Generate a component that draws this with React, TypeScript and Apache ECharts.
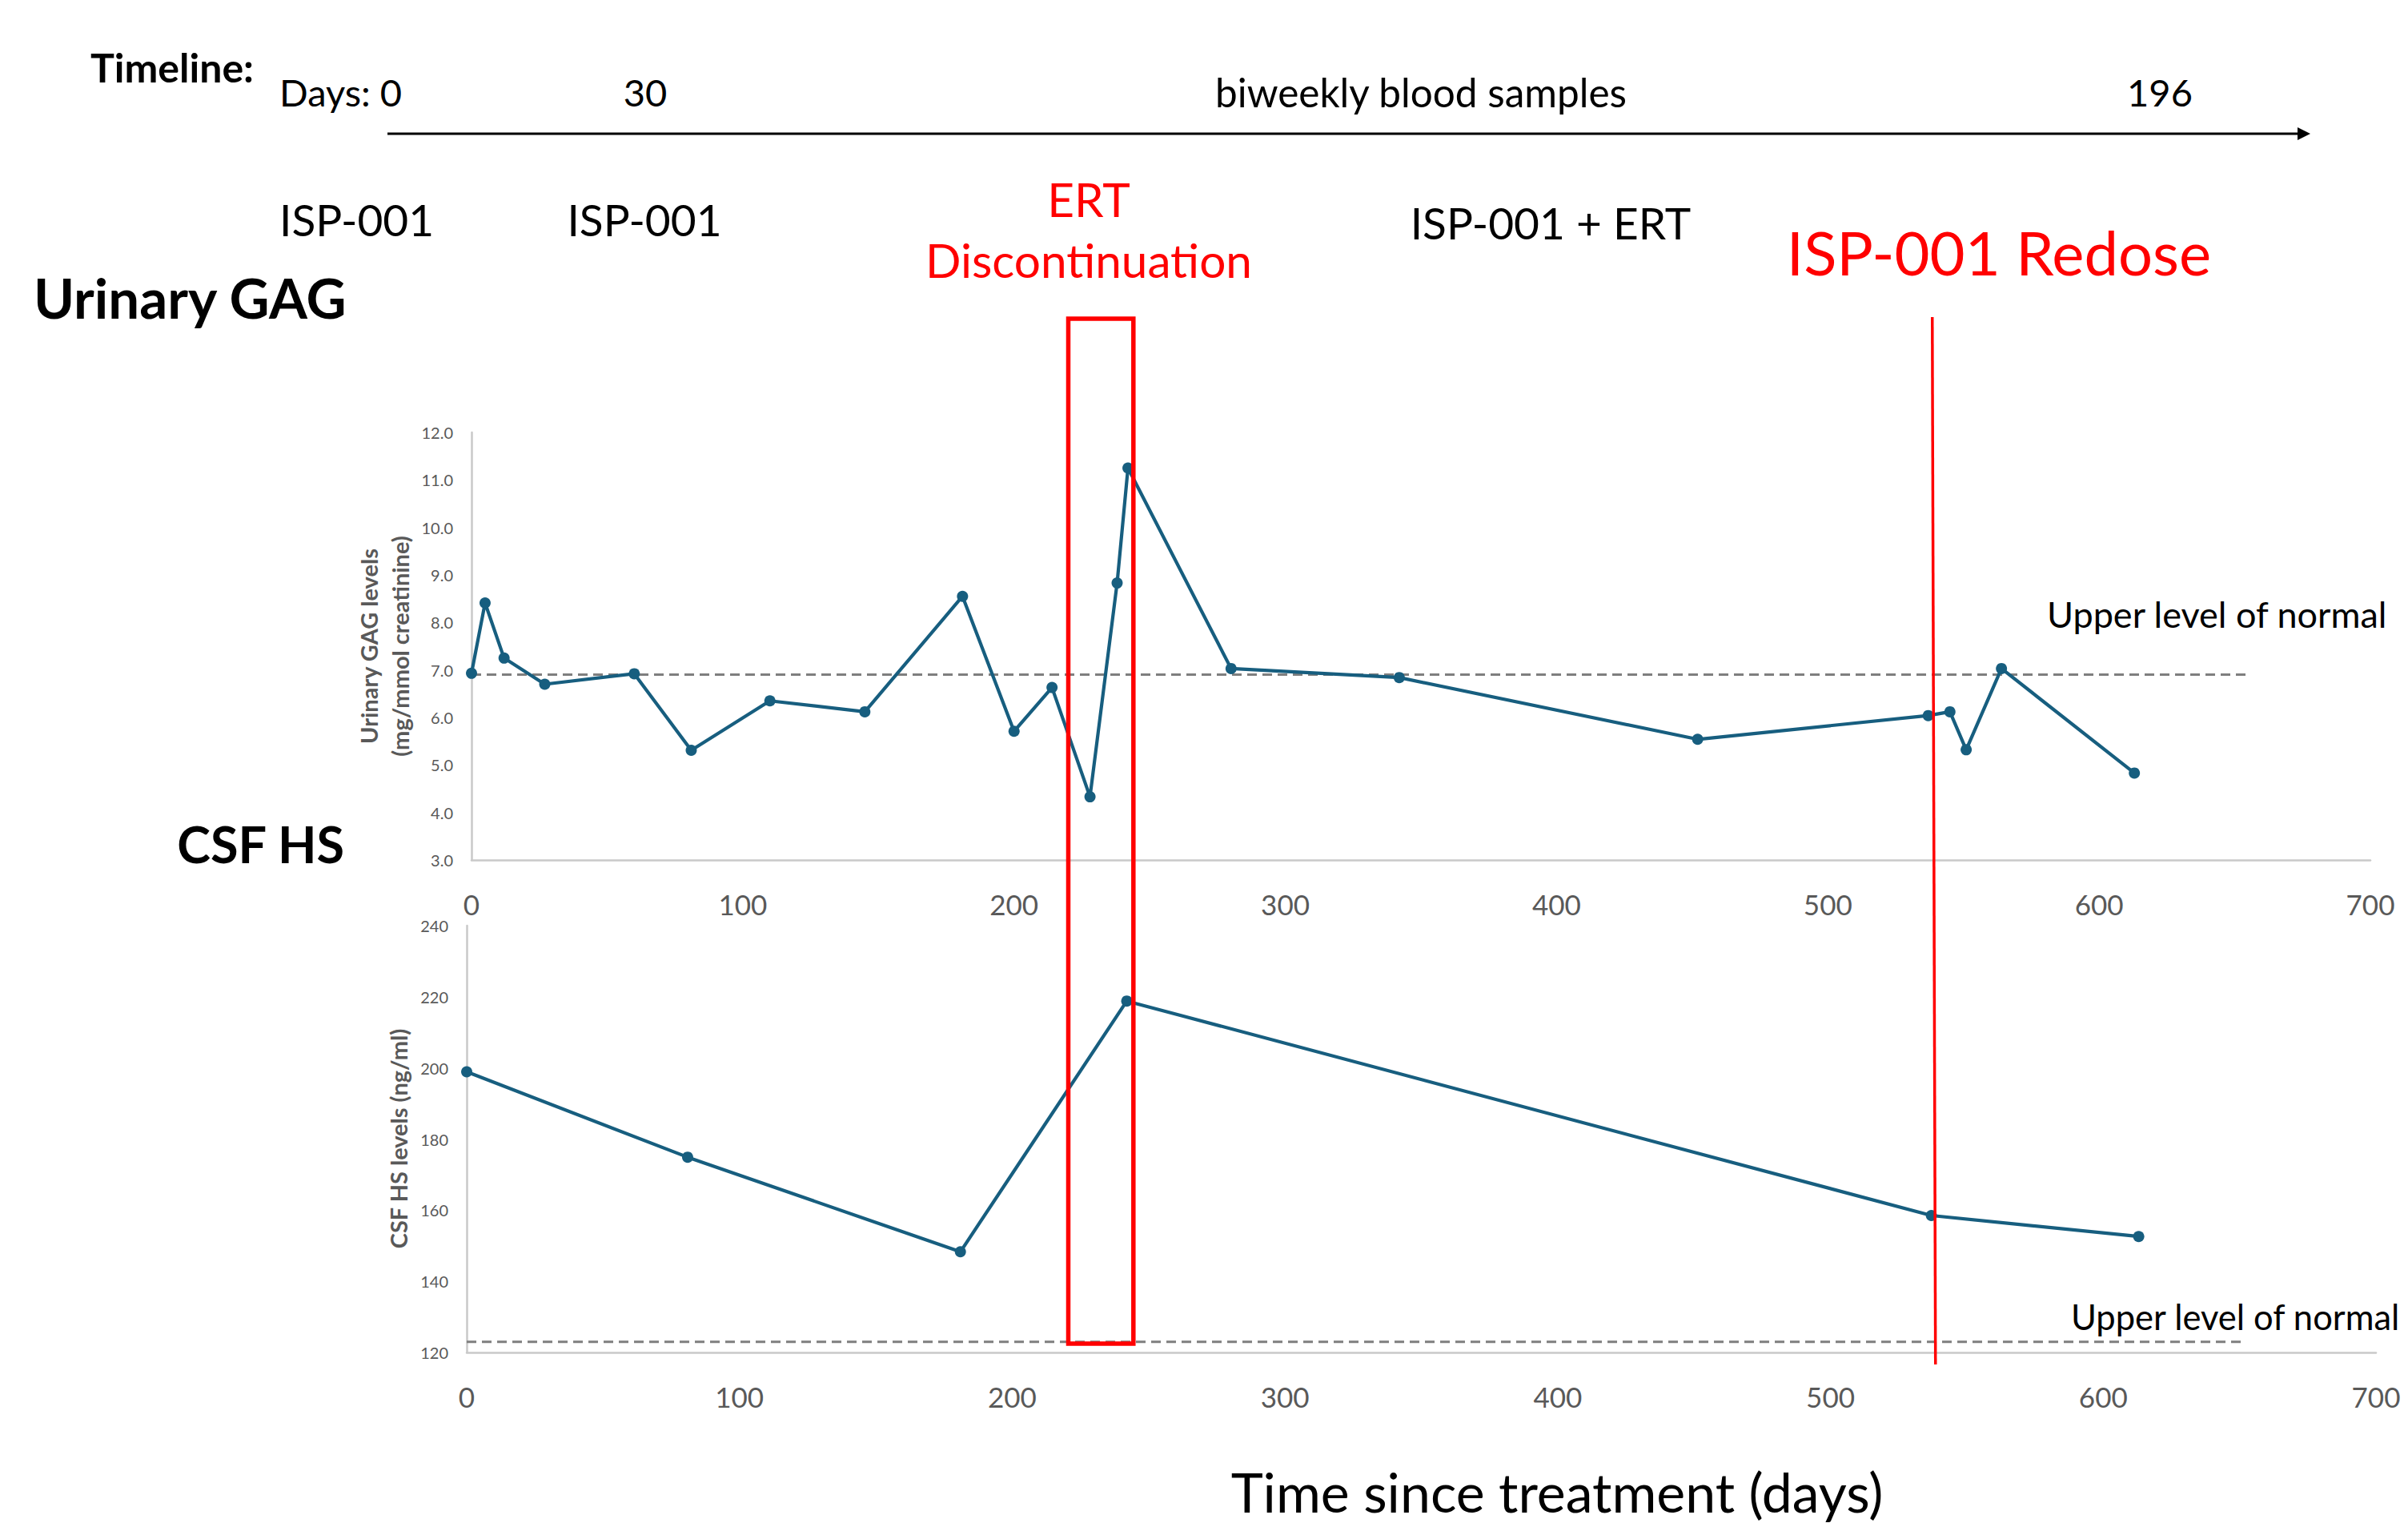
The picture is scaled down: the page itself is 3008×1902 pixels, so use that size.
import React, { useEffect, useRef } from "react";
import * as echarts from "echarts";

// ---- Data ----
const gagDays = [0, 5, 12, 27, 60, 81, 110, 145, 181, 200, 214, 228, 238, 242, 280, 342, 452, 537, 545, 551, 564, 613];
const gagValues = [6.93, 8.41, 7.25, 6.7, 6.92, 5.31, 6.35, 6.12, 8.55, 5.71, 6.63, 4.33, 8.83, 11.25, 7.03, 6.84, 5.54, 6.04, 6.12, 5.32, 7.03, 4.83];

const csfDays = [0, 81, 181, 242, 537, 613];
const csfValues = [198.9, 174.9, 148.3, 218.8, 158.5, 152.6];

const gagUpperNormal = 6.9;
const csfUpperNormal = 123;
const gagNormalSpan = [0, 655];
const csfNormalSpan = [0, 652];

const ertStopSpan = [220, 244];
const redoseDay = 538.5;

const xRange = [0, 700];
const xInterval = 100;
const gagRange = [3, 12];
const gagInterval = 1;
const csfRange = [120, 240];
const csfInterval = 20;

const timelineLabels = ["Days: 0", "30", "biweekly blood samples", "196"];
const phaseLabels = ["ISP-001", "ISP-001", "ISP-001 + ERT"];

const FONT = "Lato, 'Open Sans', sans-serif";
const LINE = "#175E7F";
const GRAY = "#595959";
const RED = "#FF0000";

export default function App() {
  const ref = useRef<HTMLDivElement>(null);

  useEffect(() => {
    const chart = echarts.init(ref.current as HTMLDivElement, null, { renderer: "svg" });

    const xAxisBase = (gridIndex: number) => ({
      type: "value",
      gridIndex,
      min: xRange[0],
      max: xRange[1],
      interval: xInterval,
      axisLine: { show: true, onZero: false, lineStyle: { color: "#C9C9C9", width: 2.5 } },
      axisTick: { show: false },
      splitLine: { show: false },
      axisLabel: { color: GRAY, fontSize: 35, fontFamily: FONT, margin: 37 },
    });

    const yAxisBase = {
      type: "value",
      axisLine: { show: true, onZero: false, lineStyle: { color: "#C9C9C9", width: 2.5 } },
      axisTick: { show: false },
      splitLine: { show: false },
    };

    chart.setOption({
      animation: false,
      backgroundColor: "#ffffff",
      grid: [
        { left: 589, top: 540, width: 2372, height: 534 },
        { left: 583, top: 1156, width: 2385, height: 533 },
      ],
      xAxis: [xAxisBase(0), xAxisBase(1)],
      yAxis: [
        {
          ...yAxisBase,
          gridIndex: 0,
          min: gagRange[0],
          max: gagRange[1],
          interval: gagInterval,
          axisLabel: {
            color: GRAY,
            fontSize: 20,
            fontFamily: FONT,
            margin: 23,
            formatter: (v: number) => v.toFixed(1),
          },
        },
        {
          ...yAxisBase,
          gridIndex: 1,
          min: csfRange[0],
          max: csfRange[1],
          interval: csfInterval,
          axisLabel: { color: GRAY, fontSize: 20, fontFamily: FONT, margin: 23 },
        },
      ],
      series: [
        {
          type: "line",
          xAxisIndex: 0,
          yAxisIndex: 0,
          data: gagNormalSpan.map((d) => [d, gagUpperNormal]),
          symbol: "none",
          lineStyle: { color: "#7F7F7F", width: 3, type: [12, 7] },
          z: 1,
        },
        {
          type: "line",
          xAxisIndex: 0,
          yAxisIndex: 0,
          data: gagDays.map((d, i) => [d, gagValues[i]]),
          symbol: "circle",
          symbolSize: 14,
          itemStyle: { color: LINE },
          lineStyle: { color: LINE, width: 4.2 },
          z: 3,
        },
        {
          type: "line",
          xAxisIndex: 1,
          yAxisIndex: 1,
          data: csfNormalSpan.map((d) => [d, csfUpperNormal]),
          symbol: "none",
          lineStyle: { color: "#7F7F7F", width: 3, type: [12, 7] },
          z: 1,
        },
        {
          type: "line",
          xAxisIndex: 1,
          yAxisIndex: 1,
          data: csfDays.map((d, i) => [d, csfValues[i]]),
          symbol: "circle",
          symbolSize: 14,
          itemStyle: { color: LINE },
          lineStyle: { color: LINE, width: 4.2 },
          z: 3,
        },
      ],
    });

    const xTop = (d: number) => chart.convertToPixel({ xAxisIndex: 0 }, d) as number;
    const xBot = (d: number) => chart.convertToPixel({ xAxisIndex: 1 }, d) as number;

    const txt = (
      text: string,
      x: number,
      y: number,
      size: number,
      opts: { color?: string; weight?: string; align?: string; rotation?: number } = {}
    ) => ({
      type: "text",
      x,
      y,
      rotation: opts.rotation || 0,
      z: 10,
      style: {
        text,
        fill: opts.color || "#000000",
        fontSize: size,
        fontFamily: FONT,
        fontWeight: opts.weight || "normal",
        align: opts.align || "center",
        verticalAlign: "middle",
        lineHeight: size * 1.3,
      },
    });

    chart.setOption({
      graphic: [
        // timeline header
        txt("Timeline:", 113, 84, 50, { weight: "bold", align: "left" }),
        txt(timelineLabels[0], 349, 115, 47, { align: "left" }),
        txt(timelineLabels[1], 806, 115, 47),
        txt(timelineLabels[2], 1775, 115, 49.5),
        txt(timelineLabels[3], 2698, 115, 47),
        {
          type: "line",
          shape: { x1: 484, y1: 167, x2: 2872, y2: 167 },
          style: { stroke: "#000000", lineWidth: 3 },
        },
        {
          type: "polygon",
          shape: { points: [[2886, 167], [2870, 159], [2870, 175]] },
          style: { fill: "#000000" },
        },
        txt(phaseLabels[0], 349, 274, 55, { align: "left" }),
        txt(phaseLabels[1], 805, 274, 55),
        txt("ERT", 1360, 248, 58.5, { color: RED }),
        txt("Discontinuation", 1360, 324, 58.5, { color: RED }),
        txt(phaseLabels[2], 1937, 278, 55),
        txt("ISP-001 Redose", 2497, 314, 76, { color: RED }),
        txt("Urinary GAG", 42, 371, 69, { weight: "bold", align: "left" }),
        txt("CSF HS", 430, 1053, 63, { weight: "bold", align: "right" }),
        // y axis titles
        txt("Urinary GAG levels", 460, 807, 29, { weight: "bold", color: GRAY, rotation: Math.PI / 2 }),
        txt("(mg/mmol creatinine)", 499, 807, 29, { weight: "bold", color: GRAY, rotation: Math.PI / 2 }),
        txt("CSF HS levels (ng/ml)", 497, 1422, 29, { weight: "bold", color: GRAY, rotation: Math.PI / 2 }),
        // reference line labels
        txt("Upper level of normal", 2557, 767, 45, { align: "left" }),
        txt("Upper level of normal", 2587, 1644, 43.5, { align: "left" }),
        // x title
        txt("Time since treatment (days)", 1945, 1862, 68),
        // ERT discontinuation box
        {
          type: "rect",
          z: 20,
          shape: {
            x: xTop(ertStopSpan[0]),
            y: 398,
            width: xTop(ertStopSpan[1]) - xTop(ertStopSpan[0]),
            height: 1678 - 398,
          },
          style: { fill: "none", stroke: RED, lineWidth: 5.5 },
        },
        // redose line
        {
          type: "line",
          z: 20,
          shape: { x1: xTop(redoseDay), y1: 396, x2: xBot(redoseDay), y2: 1704 },
          style: { stroke: RED, lineWidth: 3.5 },
        },
      ],
    });

    return () => chart.dispose();
  }, []);

  return (
    <div
      ref={ref}
      style={{ position: "fixed", left: 0, top: 0, width: 3008, height: 1902, background: "#fff" }}
    />
  );
}
